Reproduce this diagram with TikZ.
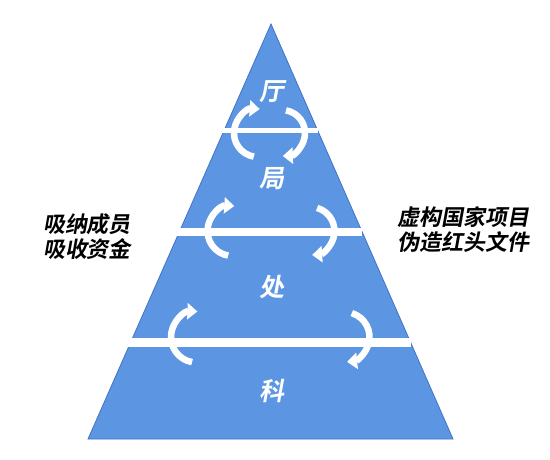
\documentclass[tikz,border=0pt]{standalone}
\usepackage{fontspec}
\usetikzlibrary{arrows.meta}
\newfontfamily\cjkb{Noto Sans CJK SC Bold}[FakeSlant=0.18]
\definecolor{pyrfill}{RGB}{92,150,227}
\definecolor{pyrline}{RGB}{66,114,196}
\begin{document}
\begin{tikzpicture}[x=1pt,y=-1pt,
  level/.style={text=white,font=\cjkb\fontsize{25}{25}\selectfont,inner sep=0pt},
  side/.style={text=black,font=\cjkb\fontsize{22}{25}\selectfont,align=center,inner sep=0pt},
  bar/.style={draw=white},
  cyc/.style={draw=white,line width=6.5pt,-{Triangle[width=16pt,length=10pt]}}]
\useasboundingbox (0,0) rectangle (550,459);
% pyramid
\coordinate (apex) at (271,24);
\coordinate (bl) at (88,439);
\coordinate (br) at (453,439);
\filldraw[fill=pyrfill,draw=pyrline,line width=0.8pt] (apex) -- (bl) -- (br) -- cycle;
% separating bars
\draw[bar,line width=5pt] (214,130.5) -- (317.7,130.5);
\draw[bar,line width=8.5pt] (168,232) -- (362.2,232);
\draw[bar,line width=9pt] (120,342.3) -- (410.6,342.3);
% circular arrows, level 1
\coordinate (c1l) at (258,133);
\coordinate (c1r) at (282,133);
\draw[cyc] ([shift={(100:24)}]c1l) arc[start angle=100,end angle=274,radius=24];
\draw[cyc] ([shift={(-80:23)}]c1r) arc[start angle=-80,end angle=88,radius=23];
% level 2
\coordinate (c2l) at (232.5,231);
\coordinate (c2r) at (310.5,231);
\draw[cyc] ([shift={(100:25)}]c2l) arc[start angle=100,end angle=274,radius=25];
\draw[cyc] ([shift={(-74:24)}]c2r) arc[start angle=-74,end angle=86,radius=24];
% level 3
\coordinate (c3l) at (196.5,337);
\coordinate (c3r) at (344.5,337);
\draw[cyc] ([shift={(100:25.5)}]c3l) arc[start angle=100,end angle=272,radius=25.5];
\draw[cyc] ([shift={(-73:25)}]c3r) arc[start angle=-73,end angle=84,radius=25];
% level labels
\node[level] (ting) at (272,92) {厅};
\node[level] (ju) at (272,179) {局};
\node[level] (chu) at (272,287.5) {处};
\node[level] (ke) at (272,391) {科};
% side texts
\node[side] (lefttext) at (87,236.5) {吸纳成员\\吸收资金};
\node[side] (righttext) at (463,230) {虚构国家项目\\伪造红头文件};
\end{tikzpicture}
\end{document}
